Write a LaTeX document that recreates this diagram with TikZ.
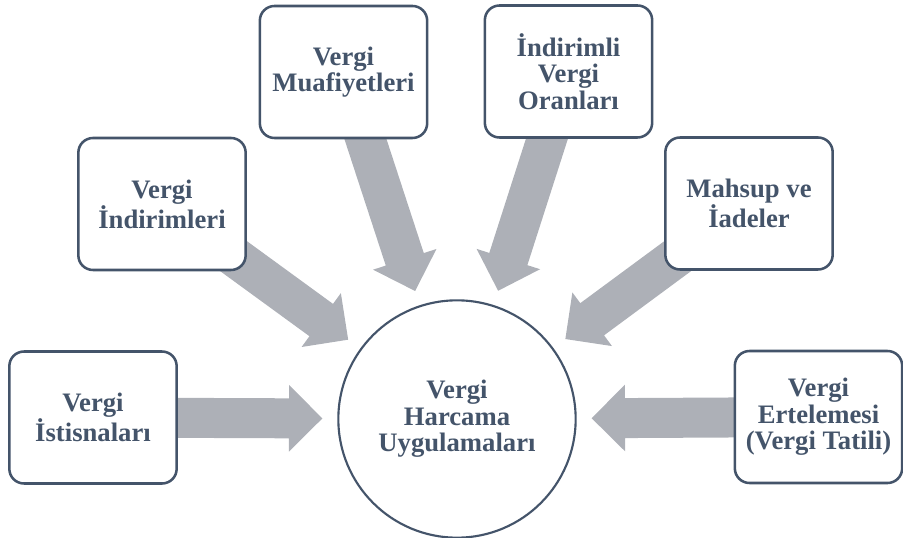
\documentclass[tikz,border=0pt]{standalone}
\usepackage{fontspec}
\setmainfont{Liberation Serif}
\usetikzlibrary{calc,backgrounds}
\definecolor{slate}{HTML}{44546A}
\definecolor{arrowgray}{RGB}{173,176,183}
\tikzset{
  box/.style={draw=slate, line width=1.9pt, rounded corners=11pt, fill=white,
    minimum width=125.5pt, minimum height=99pt, align=center, text=slate,
    font=\fontsize{20pt}{20pt}\selectfont\bfseries, inner sep=0pt},
  hub/.style={circle, draw=slate, line width=1.6pt, fill=white,
    minimum size=178pt, align=center, text=slate,
    font=\fontsize{20pt}{20pt}\selectfont\bfseries, inner sep=0pt},
  blockfill/.style={fill=arrowgray}
}
\newcommand{\blockarr}[2]{%
  \coordinate (#1-neck) at ($(#2)!25pt!(#1.center)$);
  \fill[blockfill] ($(#1.center)!15pt!90:(#2)$) -- ($(#1-neck)!15pt!90:(#2)$)
    -- ($(#1-neck)!25pt!90:(#2)$) -- (#2) -- ($(#1-neck)!25pt!-90:(#2)$)
    -- ($(#1-neck)!15pt!-90:(#2)$) -- ($(#1.center)!15pt!-90:(#2)$) -- cycle;
}
\begin{document}
\begin{tikzpicture}[x=0.75pt,y=-0.75pt]
\useasboundingbox (0,0) rectangle (903,538);
\node[hub] (c) at (457,419) {Vergi\\Harcama\\Uygulamaları};
\node[box] (b1) at (93,417.5) {Vergi\\İstisnaları};
\node[box] (b2) at (162,204) {Vergi\\İndirimleri};
\node[box] (b3) at (343.5,72) {Vergi\\Muafiyetleri};
\node[box] (b4) at (568.5,71.5) {İndirimli\\Vergi\\Oranları};
\node[box] (b5) at (749,203.5) {Mahsup ve\\İadeler};
\node[box] (b6) at (818.5,417) {Vergi\\Ertelemesi\\(Vergi Tatili)};
\foreach \b in {b1,b2,b3,b4,b5,b6}{
  \coordinate (\b-tip) at ($(c.center)!101pt!(\b.center)$);
}
\begin{pgfonlayer}{background}
\blockarr{b1}{b1-tip}
\blockarr{b2}{b2-tip}
\blockarr{b3}{b3-tip}
\blockarr{b4}{b4-tip}
\blockarr{b5}{b5-tip}
\blockarr{b6}{b6-tip}
\end{pgfonlayer}
\end{tikzpicture}
\end{document}
